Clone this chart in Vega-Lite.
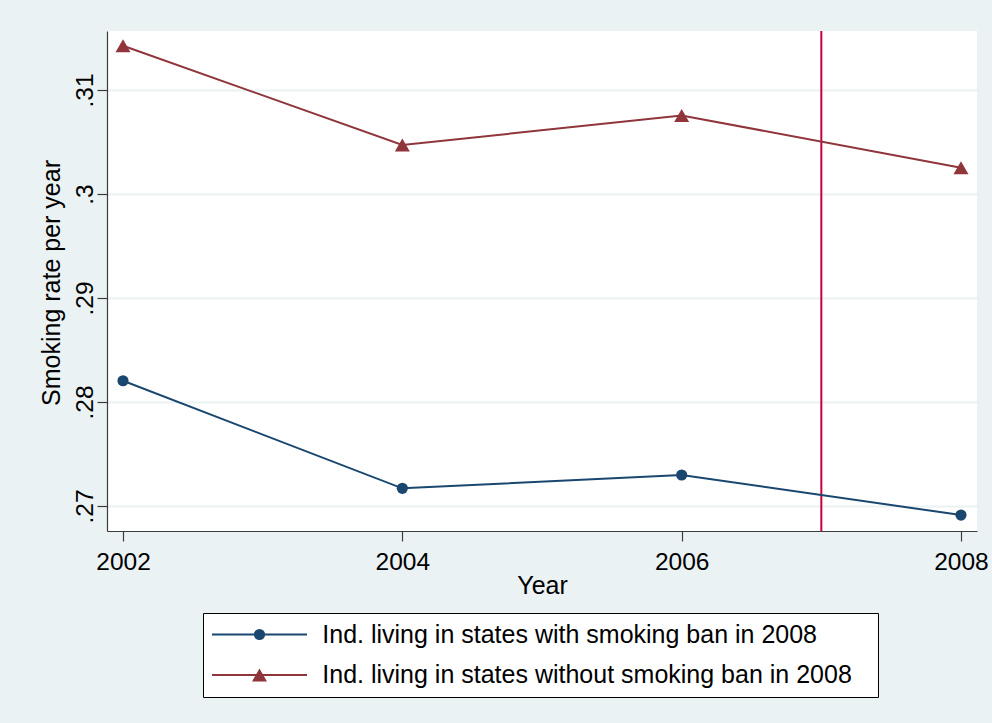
{
  "$schema": "https://vega.github.io/schema/vega-lite/v6.json",
  "width": 870,
  "height": 500,
  "autosize": {"type": "none"},
  "padding": {"left": 107, "top": 31, "right": 15, "bottom": 192},
  "background": "#EAF2F3",
  "config": {
    "view": {"stroke": null, "fill": "white"},
    "font": "Liberation Sans"
  },
  "datasets": {
    "series": [
      {"year": 2002, "rate": 0.28204, "group": "Ind. living in states with smoking ban in 2008"},
      {"year": 2004, "rate": 0.27170, "group": "Ind. living in states with smoking ban in 2008"},
      {"year": 2006, "rate": 0.27298, "group": "Ind. living in states with smoking ban in 2008"},
      {"year": 2008, "rate": 0.26913, "group": "Ind. living in states with smoking ban in 2008"},
      {"year": 2002, "rate": 0.31426, "group": "Ind. living in states without smoking ban in 2008"},
      {"year": 2004, "rate": 0.30471, "group": "Ind. living in states without smoking ban in 2008"},
      {"year": 2006, "rate": 0.30755, "group": "Ind. living in states without smoking ban in 2008"},
      {"year": 2008, "rate": 0.30253, "group": "Ind. living in states without smoking ban in 2008"}
    ],
    "ban": [{"year": 2007}]
  },
  "layer": [
    {
      "data": {"name": "ban"},
      "mark": {"type": "rule", "color": "#c8003c", "strokeWidth": 2},
      "encoding": {
        "x": {"field": "year", "type": "quantitative", "scale": {"domain": [2001.8854, 2008.1146], "nice": false, "zero": false}}
      }
    },
    {
      "data": {"name": "series"},
      "mark": {"type": "line", "strokeWidth": 2},
      "encoding": {
        "x": {
          "field": "year", "type": "quantitative",
          "scale": {"domain": [2001.8854, 2008.1146], "nice": false, "zero": false},
          "axis": {
            "values": [2002, 2004, 2006, 2008], "format": "d", "grid": false,
            "domainColor": "#3c3c3c", "domainWidth": 1.2, "tickColor": "#3c3c3c", "tickSize": 10, "tickWidth": 1.2,
            "labelFontSize": 24.5, "labelColor": "black", "labelBaseline": "alphabetic", "labelPadding": 28.3,
            "labelFlush": false, "labelOverlap": false,
            "title": "Year", "titleFontSize": 25, "titleFontWeight": "normal", "titleColor": "black",
            "titleBaseline": "alphabetic", "titleAlign": "center", "titleX": 435, "titleY": 62.3
          }
        },
        "y": {
          "field": "rate", "type": "quantitative",
          "scale": {"domain": [0.267596, 0.315673], "nice": false, "zero": false},
          "axis": {
            "values": [0.27, 0.28, 0.29, 0.30, 0.31],
            "labelExpr": "substring(format(datum.value, '.2~f'), 1)",
            "grid": true, "gridColor": "#EAF2F3", "gridWidth": 2,
            "domainColor": "#3c3c3c", "domainWidth": 1.2, "tickColor": "#3c3c3c", "tickSize": 10, "tickWidth": 1.2,
            "labelFontSize": 24.5, "labelColor": "black", "labelAngle": -90, "labelAlign": "center",
            "labelBaseline": "alphabetic", "labelPadding": 4.7, "labelFlush": false, "labelOverlap": false,
            "title": "Smoking rate per year", "titleFontSize": 25, "titleFontWeight": "normal", "titleColor": "black",
            "titleAngle": -90, "titleAlign": "center", "titleBaseline": "alphabetic", "titleX": -48, "titleY": 251.5
          }
        },
        "stroke": {
          "field": "group", "type": "nominal",
          "scale": {"range": ["#1a476f", "#90353b"]},
          "legend": {
            "orient": "none", "legendX": 96, "legendY": 582, "direction": "vertical", "zindex": 0,
            "title": " ", "titleOrient": "right", "titlePadding": 17, "titleFontSize": 2,
            "padding": 9, "strokeColor": "black", "fillColor": "white",
            "labelFontSize": 25, "labelColor": "black", "labelOffset": 85.3, "labelLimit": 1000,
            "rowPadding": 14.4, "symbolSize": 400, "symbolStrokeWidth": 2,
            "symbolType": "M-1.25,0H8.25"
          }
        }
      }
    },
    {
      "data": {"name": "series"},
      "mark": {"type": "point", "filled": true, "opacity": 1},
      "encoding": {
        "x": {"field": "year", "type": "quantitative", "scale": {"domain": [2001.8854, 2008.1146], "nice": false, "zero": false}},
        "y": {"field": "rate", "type": "quantitative", "scale": {"domain": [0.267596, 0.315673], "nice": false, "zero": false}},
        "color": {
          "field": "group", "type": "nominal",
          "scale": {
            "domain": ["Ind. living in states with smoking ban in 2008", "Ind. living in states without smoking ban in 2008"],
            "range": ["#1a476f", "#90353b"]
          },
          "legend": {
            "orient": "none", "legendX": 131, "legendY": 582, "direction": "vertical", "zindex": 1,
            "title": null, "padding": 9,
            "labelFontSize": 25, "labelOpacity": 0, "labelExpr": "' '", "labelOffset": 85.3, "labelLimit": 1000,
            "rowPadding": 14.4, "symbolStrokeWidth": 0, "symbolOpacity": 1
          }
        },
        "shape": {
          "field": "group", "type": "nominal",
          "scale": {
            "domain": ["Ind. living in states with smoking ban in 2008", "Ind. living in states without smoking ban in 2008"],
            "range": ["circle", "triangle-up"]
          }
        },
        "size": {
          "field": "group", "type": "nominal",
          "scale": {
            "domain": ["Ind. living in states with smoking ban in 2008", "Ind. living in states without smoking ban in 2008"],
            "range": [125, 225]
          }
        }
      }
    }
  ]
}
